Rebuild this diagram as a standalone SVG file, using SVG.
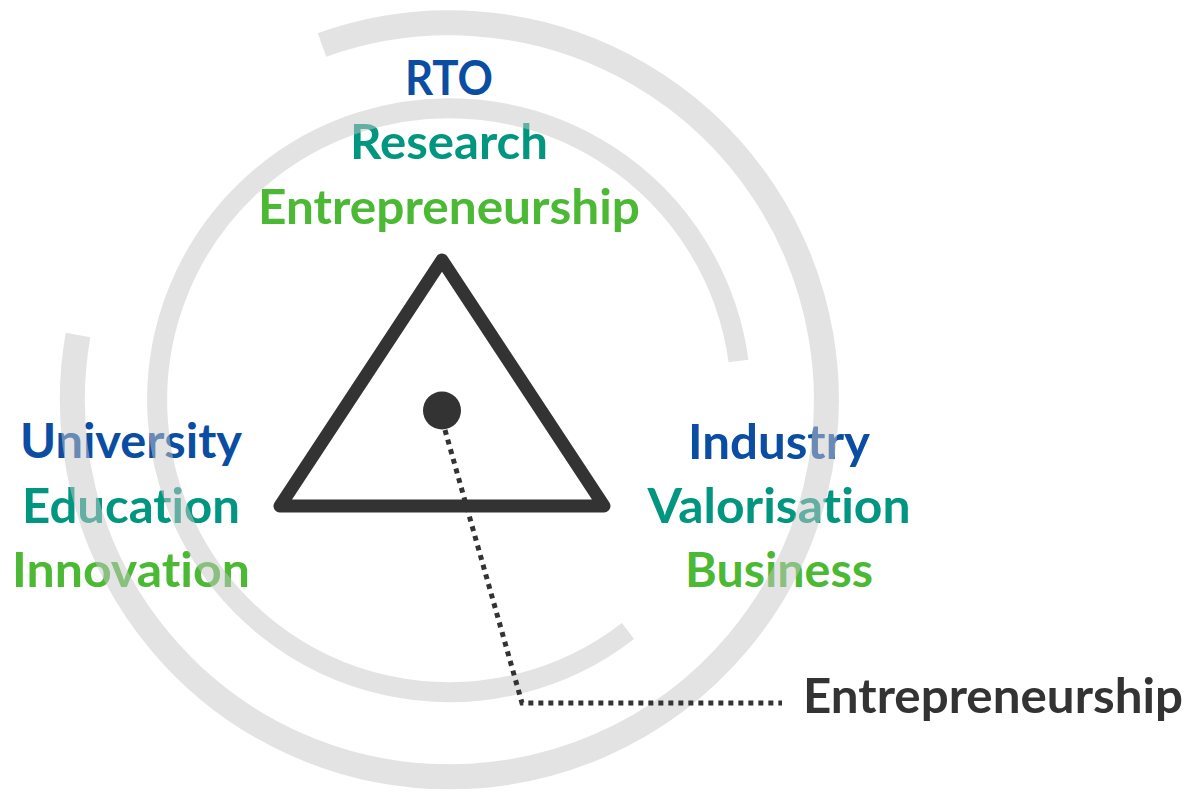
<svg xmlns="http://www.w3.org/2000/svg" width="1189" height="793" viewBox="0 0 1189 793">
  <style>
    .t { font-family: Lato, "Open Sans", "Liberation Sans", sans-serif; font-weight: bold; font-size: 47px; text-anchor: middle; font-variant-ligatures: none; font-feature-settings: "liga" 0, "clig" 0; }
    .blue { fill: #0a4da2; }
    .teal { fill: #00967f; }
    .green { fill: #4cb935; }
    .dark { fill: #333333; }
    .ring { fill: none; stroke: #c7c7c7; stroke-opacity: 0.5; stroke-linecap: butt; }
    .dotline { fill: none; stroke: #333333; stroke-width: 5; stroke-dasharray: 5 5; }
  </style>
  <rect width="1189" height="793" fill="#ffffff"/>

  <g id="node-rto">
    <text class="t blue" x="449" y="95" textLength="88" lengthAdjust="spacingAndGlyphs">RTO</text>
    <text class="t teal" x="449" y="159" textLength="198" lengthAdjust="spacingAndGlyphs">Research</text>
    <text class="t green" x="449" y="224" textLength="382" lengthAdjust="spacingAndGlyphs">Entrepreneurship</text>
  </g>

  <g id="node-university">
    <text class="t blue" x="131" y="458" textLength="222" lengthAdjust="spacingAndGlyphs">University</text>
    <text class="t teal" x="131" y="523" textLength="218" lengthAdjust="spacingAndGlyphs">Education</text>
    <text class="t green" x="131" y="587" textLength="238" lengthAdjust="spacingAndGlyphs">Innovation</text>
  </g>

  <g id="node-industry">
    <text class="t blue" x="779" y="459" textLength="182" lengthAdjust="spacingAndGlyphs">Industry</text>
    <text class="t teal" x="779" y="523" textLength="263" lengthAdjust="spacingAndGlyphs">Valorisation</text>
    <text class="t green" x="779" y="587" textLength="188" lengthAdjust="spacingAndGlyphs">Business</text>
  </g>

  <g id="rings">
    <path class="ring" stroke-width="25" d="M 322 45 A 377 377 0 1 1 78 335"/>
    <path class="ring" stroke-width="20" d="M 628 631 A 292 292 0 1 1 738.5 361"/>
  </g>

  <g id="node-triangle">
    <polygon points="442,260 280,506 604,506" fill="none" stroke="#333333" stroke-width="13" stroke-linejoin="round"/>
  </g>

  <g id="node-center">
    <circle cx="442" cy="410.5" r="19" fill="#333333"/>
  </g>

  <g id="connectors">
    <polyline class="dotline" points="445,430 522,703 782,703"/>
  </g>

  <g id="node-entrepreneurship">
    <text class="t dark" x="993" y="713" textLength="380" lengthAdjust="spacingAndGlyphs">Entrepreneurship</text>
  </g>
</svg>
